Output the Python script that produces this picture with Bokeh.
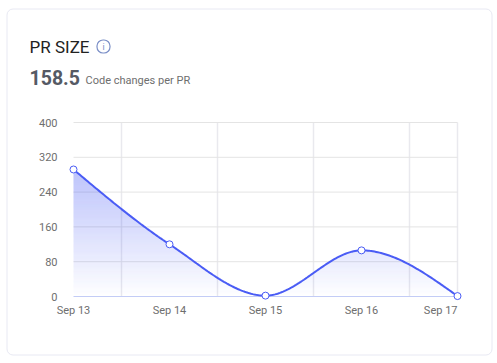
import numpy as np
from bokeh.plotting import figure
from bokeh.models import Label, BoxAnnotation, FixedTicker, Range1d
from bokeh.embed import file_html
from bokeh.resources import INLINE

categories = ["Sep 13", "Sep 14", "Sep 15", "Sep 16", "Sep 17"]
values = [292, 120, 2, 106, 1]
y_ticks = [0, 80, 160, 240, 320, 400]
v_grid = [0.5, 1.5, 2.5, 3.5, 4]
title_text = "PR SIZE"
big_number = "158.5"
subtitle = "Code changes per PR"

LINE = "#4a5cf5"
TEXT = "#6e6e6e"
PXX = 96.0
PXY = 174 / 400
W = 497
H = 363
X0 = 73
Y0 = 296

xs = np.arange(len(values), dtype=float)
ys = np.array(values, dtype=float)

# monotone cubic smoothing of the series, for the drawn curve only
s = np.diff(ys)
t = np.zeros(len(ys))
for i in range(1, len(ys) - 1):
    a, b = s[i - 1], s[i]
    t[i] = (np.sign(a) + np.sign(b)) * min(abs(a), abs(b), 0.5 * abs((a + b) / 2))
t[0] = (3 * s[0] - t[1]) / 2
t[-1] = (3 * s[-1] - t[-2]) / 2
cx, cy = [], []
for i in range(len(ys) - 1):
    u = np.linspace(0, 1, 60, endpoint=i == len(ys) - 2)
    h00 = 2*u**3 - 3*u**2 + 1
    h10 = u**3 - 2*u**2 + u
    h01 = -2*u**3 + 3*u**2
    h11 = u**3 - u**2
    cx.append(xs[i] + u)
    cy.append(h00*ys[i] + h10*t[i] + h01*ys[i+1] + h11*t[i+1])
cx = np.concatenate(cx)
cy = np.concatenate(cy)

p = figure(
    width=W, height=H, output_backend="svg", toolbar_location=None,
    x_range=Range1d(-X0 / PXX, (W - X0) / PXX),
    y_range=Range1d(-(H - Y0) / PXY, Y0 / PXY),
    frame_width=W, frame_height=H,
    min_border_left=0, min_border_right=0, min_border_top=0, min_border_bottom=0,
    outline_line_color=None, background_fill_color=None, border_fill_color=None,
)

def box(left, right, top, bottom, **kw):
    p.add_layout(BoxAnnotation(
        left=left, right=right, top=H - top, bottom=H - bottom,
        left_units="screen", right_units="screen", top_units="screen", bottom_units="screen",
        line_alpha=1, **kw))

# card
box(6.5, 491.5, 8.5, 354.5, fill_color="white", fill_alpha=1, line_color="#e8e9f3",
    line_width=1, border_radius=6, level="underlay")

# grid
p.xgrid.visible = False
p.ygrid.visible = False
gx = np.array(v_grid)
p.segment(gx, 0, gx, 400, line_color="#e9e9ee", line_width=1.5)
gy = np.array(y_ticks[1:])
p.segment(0, gy, 4, gy, line_color="#e4e4e4", line_width=1)
p.segment(0, 0, 4, 0, line_color="#c3ccf6", line_width=1.2)

# gradient area, in thin bands
step = 1 / PXY
top = ys.max()
for k in np.arange(0, top, step):
    lo = np.minimum(cy, k)
    hi = np.minimum(cy, k + step)
    p.varea(cx, lo, hi, fill_color=LINE, fill_alpha=float(0.40 * (k + step / 2) / top))

p.line(cx, cy, line_color=LINE, line_width=2)
p.scatter(xs, ys, size=7, fill_color="white", line_color=LINE, line_width=1)

# axes
p.yaxis.fixed_location = 0
p.yaxis.ticker = FixedTicker(ticks=y_ticks)
p.yaxis.axis_line_color = None
p.yaxis.major_tick_line_color = None
p.yaxis.minor_tick_line_color = None
p.yaxis.major_label_standoff = 10
p.yaxis.major_label_text_font = "Roboto"
p.yaxis.major_label_text_font_size = "11px"
p.yaxis.major_label_text_color = TEXT

p.xaxis.fixed_location = 0
p.xaxis.ticker = FixedTicker(ticks=list(range(4)))
p.xaxis.major_label_overrides = {i: c for i, c in enumerate(categories[:4])}
p.xaxis.axis_line_color = None
p.xaxis.major_tick_line_color = None
p.xaxis.minor_tick_line_color = None
p.xaxis.major_label_standoff = 1
p.xaxis.major_label_text_font = "Roboto"
p.xaxis.major_label_text_font_size = "11px"
p.xaxis.major_label_text_color = TEXT

def lab(text, x, y, size, color, style="normal", align="left", baseline="alphabetic", x_units="screen"):
    p.add_layout(Label(text=text, x=x, y=H - y, x_units=x_units, y_units="screen",
                       text_font="Roboto", text_font_size=size, text_color=color,
                       text_font_style=style, text_align=align, text_baseline=baseline))

lab(categories[4], 4, 310, "11px", TEXT, align="right", x_units="data")
lab(title_text, 29, 46, "17px", "#222222")
lab(big_number, 29, 77, "19.5px", "#555a64", style="bold")
lab(subtitle, 85, 80, "11px", TEXT)

# info icon
box(96.5, 109.5, 39.5, 52.5, fill_alpha=0, line_color="#7b8fc7", line_width=1.2,
    border_radius=6, level="overlay")
lab("i", 103, 46, "9px", "#7b8fc7", align="center", baseline="middle")

open("out.html", "w").write(file_html(p, INLINE))
